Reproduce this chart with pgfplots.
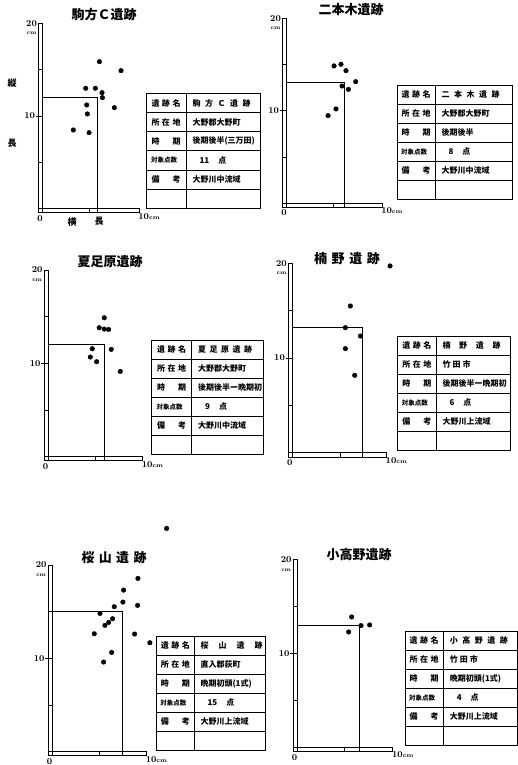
\documentclass[border=0pt]{standalone}
\usepackage{fontspec}
\usepackage{pgfplots}
\pgfplotsset{compat=1.18}
\newfontfamily\cjk{Noto Sans CJK JP}

\pgfplotsset{
  panel/.style={
    hide axis, clip=false, scale only axis,
    xmin=0, xmax=10, ymin=0, ymax=20,
    anchor=south west,
  },
  dots/.style={only marks, mark=*, mark size=2.3pt, black},
  meanbox/.style={line width=0.8pt, black},
}
\newcommand{\numfont}{\fontsize{9}{9}\selectfont\bfseries}
\newcommand{\tabfont}{\cjk\bfseries\fontsize{8}{8}\selectfont}
\newcommand{\spread}[2]{\makebox[#1][s]{#2}}

% ruler-like axes, #1 = right end of the horizontal bar
\newcommand{\rulers}[1]{%
  \draw[line width=0.8pt] (axis cs:-0.45,-0.45) rectangle (axis cs:0,20);
  \draw[line width=0.8pt] (axis cs:-0.45,-0.45) rectangle (axis cs:#1,0);
  \draw[line width=0.6pt] (axis cs:-0.45,5) -- (axis cs:0,5);
  \draw[line width=0.6pt] (axis cs:-0.75,10) -- (axis cs:0,10);
  \draw[line width=0.6pt] (axis cs:-0.45,15) -- (axis cs:0,15);
  \draw[line width=0.6pt] (axis cs:5,-0.45) -- (axis cs:5,0);
  \node[anchor=east,font=\numfont,inner sep=1pt] at (axis cs:-0.5,20) {20};
  \node[anchor=north east,font=\fontsize{5.5}{5.5}\selectfont\bfseries,inner sep=1pt] at (axis cs:-0.55,19.2) {cm};
  \node[anchor=east,font=\numfont,inner sep=1pt] at (axis cs:-0.7,10) {10};
  \node[anchor=north,font=\numfont,inner sep=1pt] at (axis cs:-0.3,-0.6) {0};
  \node[anchor=west,font=\numfont,inner sep=0pt] at (axis cs:#1-0.1,-0.8) {10{\fontsize{6}{6}\selectfont cm}};
}

% info table: left, top, right, divider, name, place, period, count, remark
\newcommand{\infotable}[9]{%
  \draw[line width=0.9pt] (#1,#2) rectangle (#3,#2-6*19.1);
  \draw[line width=0.8pt] (#4,#2) -- (#4,#2-6*19.1);
  \foreach \i in {1,...,5}{\draw[line width=0.7pt] (#1,#2-\i*19.1) -- (#3,#2-\i*19.1);}
  \node[font=\tabfont] at ({(#1+#4)/2},#2-0.5*19.1) {\spread{29pt}{遺\hfill 跡\hfill 名}};
  \node[font=\tabfont] at ({(#1+#4)/2},#2-1.5*19.1) {\spread{29pt}{所\hfill 在\hfill 地}};
  \node[font=\tabfont] at ({(#1+#4)/2},#2-2.5*19.1) {\spread{29pt}{時\hfill 期}};
  \node[font=\cjk\bfseries\fontsize{6.5}{6.5}\selectfont] at ({(#1+#4)/2},#2-3.5*19.1) {\spread{30pt}{対象点数}};
  \node[font=\tabfont] at ({(#1+#4)/2},#2-4.5*19.1) {\spread{29pt}{備\hfill 考}};
  \node[font=\tabfont,anchor=west] at (#4+3,#2-0.5*19.1) {#5};
  \node[font=\tabfont,anchor=west] at (#4+3,#2-1.5*19.1) {#6};
  \node[font=\tabfont,anchor=west] at (#4+3,#2-2.5*19.1) {#7};
  \node[font=\tabfont,anchor=west] at (#4+3,#2-3.5*19.1) {\hspace{7pt}#8\hspace{9pt}点};
  \node[font=\tabfont,anchor=west] at (#4+3,#2-4.5*19.1) {#9};
}

\begin{document}
\begin{tikzpicture}[x=1pt,y=1pt]
\path[use as bounding box] (0,0) rectangle (518,765);

%------------- 駒方C遺跡 -------------
\begin{axis}[panel, at={(42.7pt,556.3pt)}, width=92.7pt, height=185.4pt]
\rulers{10.4}
\addplot[meanbox] coordinates {(0,12.0) (5.9,12.0) (5.9,-0.45)};
\addplot[dots] coordinates {(6.12,15.86) (8.45,14.89) (4.64,12.99) (5.68,12.99)
  (6.40,12.52) (6.44,11.98) (7.73,10.90) (4.75,11.19) (4.82,10.22) (3.31,8.49) (5.00,8.20)};
\end{axis}
\node[font=\cjk\bfseries\fontsize{13}{13}\selectfont] at (104,750) {駒方Ｃ遺跡};
\node[font=\cjk\bfseries\fontsize{9}{9}\selectfont] at (12,682) {縦};
\node[font=\cjk\bfseries\fontsize{9}{9}\selectfont] at (12,622) {長};
\node[font=\cjk\bfseries\fontsize{9}{9}\selectfont] at (72,543) {横};
\node[font=\cjk\bfseries\fontsize{9}{9}\selectfont] at (99,544) {長};
\infotable{146}{671.5}{260.5}{186}{\spread{58pt}{駒\hfill 方\hfill Ｃ\hfill 遺\hfill 跡}}{大野郡大野町}{後期後半(三万田)}{11}{大野川中流域}

%------------- 二本木遺跡 -------------
\begin{axis}[panel, at={(286.7pt,561.7pt)}, width=92.5pt, height=185pt]
\rulers{10.3}
\addplot[meanbox] coordinates {(0,13.05) (6.2,13.05) (6.2,-0.45)};
\addplot[dots] coordinates {(5.12,14.85) (5.87,15.03) (6.41,14.34) (7.46,13.15)
  (5.98,12.68) (6.67,12.32) (5.33,10.20) (4.47,9.48)};
\end{axis}
\node[font=\cjk\bfseries\fontsize{13}{13}\selectfont] at (351,755) {二本木遺跡};
\infotable{397}{680}{512}{435}{\spread{58pt}{二\hfill 本\hfill 木\hfill 遺\hfill 跡}}{大野郡大野町}{後期後半}{8}{大野川中流域}

%------------- 夏足原遺跡 -------------
\begin{axis}[panel, at={(48.3pt,308.3pt)}, width=93.3pt, height=186.6pt]
\rulers{10.1}
\addplot[meanbox] coordinates {(0,12.0) (6.0,12.0) (6.0,-0.45)};
\addplot[dots] coordinates {(6.00,14.89) (5.46,13.82) (6.00,13.68) (6.46,13.64)
  (4.71,11.57) (6.75,11.50) (4.50,10.68) (5.18,10.18) (7.71,9.14)};
\end{axis}
\node[font=\cjk\bfseries\fontsize{13}{13}\selectfont] at (110,503) {夏足原遺跡};
\infotable{151.7}{425}{263.3}{191.7}{\spread{54pt}{夏\hfill 足\hfill 原\hfill 遺\hfill 跡}}{大野郡大野町}{後期後半ー晩期初}{9}{大野川中流域}

%------------- 楠野遺跡 -------------
\begin{axis}[panel, at={(292.7pt,312.3pt)}, width=94.7pt, height=189.4pt]
\rulers{9.9}
\addplot[meanbox] coordinates {(0,13.2) (7.39,13.2) (7.39,-0.45)};
\addplot[dots] coordinates {(10.28,19.72) (6.09,15.49) (5.56,13.20) (7.15,12.32)
  (5.56,10.99) (6.55,8.17)};
\end{axis}
\node[font=\cjk\bfseries\fontsize{13}{13}\selectfont] at (347,506) {\spread{66pt}{楠\hfill 野\hfill 遺\hfill 跡}};
\infotable{397.7}{429}{510.7}{436}{\spread{58pt}{楠\hfill 野\hfill 遺\hfill 跡}}{\spread{28pt}{竹\hfill 田\hfill 市}}{後期後半ー晩期初}{6}{大野川上流域}

%------------- 桜山遺跡 -------------
\begin{axis}[panel, at={(52.3pt,13.3pt)}, width=93.3pt, height=186.6pt]
\rulers{10.1}
\addplot[meanbox] coordinates {(0,15.07) (7.5,15.07) (7.5,-0.45)};
\addplot[dots] coordinates {(12.25,23.93) (9.18,18.57) (7.64,17.32) (7.57,16.04)
  (6.64,15.54) (9.14,15.68) (5.11,14.82) (4.50,12.64) (8.82,12.61) (10.46,11.68)
  (6.36,10.64) (5.50,9.61) (5.64,13.54) (6.04,13.86) (6.46,14.25)};
\end{axis}
\node[font=\cjk\bfseries\fontsize{13}{13}\selectfont] at (114,207) {\spread{65pt}{桜\hfill 山\hfill 遺\hfill 跡}};
\infotable{156.7}{129}{265}{194}{\spread{62pt}{桜\hfill 山\hfill 遺\hfill 跡}}{直入郡荻町}{晩期初頭(1式)}{15}{大野川上流域}

%------------- 小高野遺跡 -------------
\begin{axis}[panel, at={(297.3pt,17.7pt)}, width=93.7pt, height=187.4pt]
\rulers{10.2}
\addplot[meanbox] coordinates {(0,12.99) (6.62,12.99) (6.62,-0.45)};
\addplot[dots] coordinates {(5.80,13.91) (5.48,12.31) (6.80,12.99) (7.72,13.06)};
\end{axis}
\node[font=\cjk\bfseries\fontsize{13}{13}\selectfont] at (359,210) {小高野遺跡};
\infotable{405}{134}{517}{443.3}{\spread{58pt}{小\hfill 高\hfill 野\hfill 遺\hfill 跡}}{\spread{28pt}{竹\hfill 田\hfill 市}}{晩期初頭(1式)}{4}{大野川上流域}
\end{tikzpicture}
\end{document}
